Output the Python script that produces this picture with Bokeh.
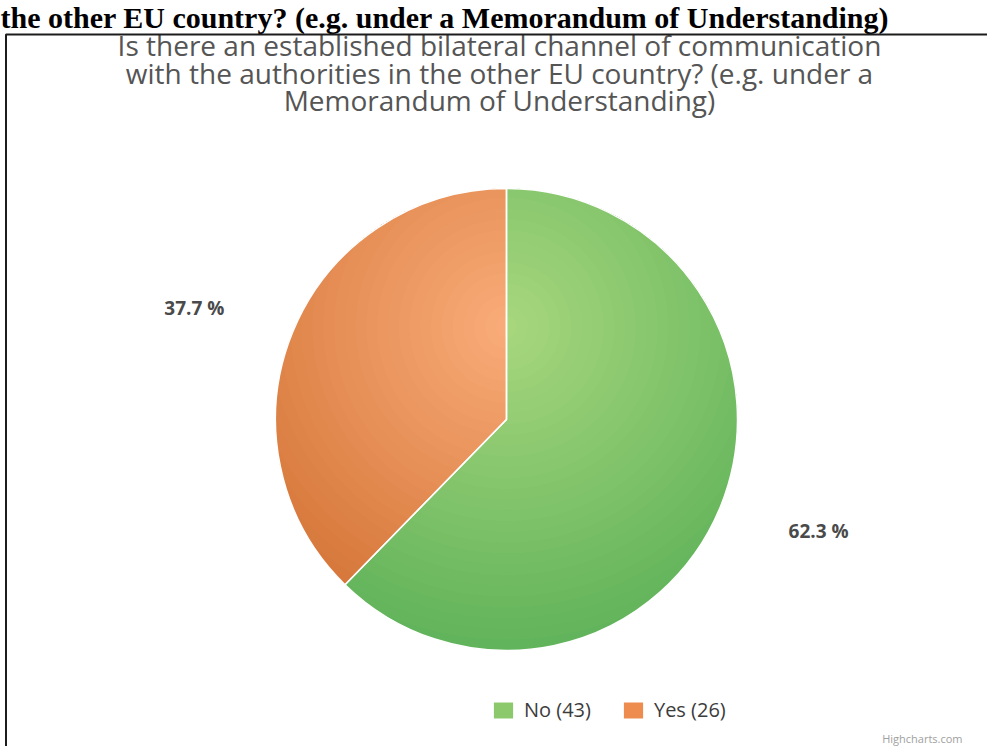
import numpy as np
from bokeh.plotting import figure
from bokeh.models import Range1d, Legend, LegendItem, BoxAnnotation
from bokeh.embed import file_html
from bokeh.resources import INLINE
from bokeh.core.properties import value

# ---- data ----
categories = ["No", "Yes"]
counts = [43, 26]
legend_labels = ["No (43)", "Yes (26)"]
title_lines = [
    "Is there an established bilateral channel of communication",
    "with the authorities in the other EU country? (e.g. under a",
    "Memorandum of Understanding)",
]
header_text = "the other EU country? (e.g. under a Memorandum of Understanding)"
credits_text = "Highcharts.com"

# ---- styles ----
legend_colors = ["#8cc96c", "#ee8b4f"]
grad_light = ["#a8d77e", "#f9ac79"]
grad_dark = ["#60b35a", "#d47436"]

W, H = 987, 746


def fx(xr):
    return xr


def fy(yr):
    return H - yr


def hex2rgb(h):
    h = h.lstrip("#")
    return np.array([int(h[i:i + 2], 16) for i in (0, 2, 4)], dtype=float)


def lerp(c0, c1, t):
    a, b = hex2rgb(c0), hex2rgb(c1)
    c = a + (b - a) * t
    return "#%02x%02x%02x" % tuple(int(round(v)) for v in c)


p = figure(width=W, height=H, x_range=Range1d(0, W), y_range=Range1d(0, H),
           output_backend="svg", toolbar_location=None, min_border=0,
           x_axis_type=None, y_axis_type=None)
p.grid.visible = False
p.outline_line_color = None
p.background_fill_color = "white"
p.border_fill_color = "white"

# frame box of the embedded chart
p.add_layout(BoxAnnotation(left=5.5, right=W + 60, top=fy(34), bottom=-60,
                           fill_alpha=0, line_color="#1c1c1c", line_alpha=1.0,
                           line_width=2))

# document header above the box
p.text(x=[fx(0)], y=[fy(0)], text=[header_text], text_font=value("Liberation Serif"),
       text_font_style="bold", text_font_size="30px", text_color="black",
       text_baseline="top", text_align="left")

# title
p.text(x=[fx(499)] * 3, y=[fy(44), fy(72), fy(99)], text=title_lines,
       text_align="center", text_baseline="middle", text_font=value("Open Sans"),
       text_font_size="28px", text_color="#555555")

# pie geometry
cx, cy, R = fx(506), fy(419), 231.0
total = float(sum(counts))
fracs = [c / total for c in counts]
cum = np.concatenate([[0.0], np.cumsum(fracs)])
starts = [np.pi / 2 - 2 * np.pi * cum[i + 1] for i in range(len(counts))]
ends = [np.pi / 2 - 2 * np.pi * cum[i] for i in range(len(counts))]

base_renderers = []
for i in range(len(counts)):
    r = p.wedge(x=[cx], y=[cy], radius=R, start_angle=[starts[i]], end_angle=[ends[i]],
                fill_color=legend_colors[i], line_color=None)
    base_renderers.append(r)

# radial gradient (Highcharts style: centre at 0.3 of diameter from top, radius 0.7 D)
gx, gy = cx, cy + 0.4 * R
rho_max = 1.4 * R
N = 30
for i in range(len(counts)):
    th = np.linspace(starts[i], ends[i], 260)
    ux, uy = np.cos(th), np.sin(th)
    dx, dy = cx - gx, cy - gy
    b = ux * dx + uy * dy
    cc = dx * dx + dy * dy
    xs, ys, cols = [], [], []
    for k in range(N, 0, -1):
        rho = rho_max * k / N
        disc = b * b - cc + rho * rho
        sq = np.sqrt(np.clip(disc, 0, None))
        lo = np.clip(-b - sq, 0, R)
        hi = np.clip(-b + sq, 0, R)
        empty = (disc < 0) | (hi <= lo)
        if empty.all():
            continue
        lo = np.where(empty, 0, lo)
        hi = np.where(empty, 0, hi)
        px = np.concatenate([cx + hi * ux, (cx + lo * ux)[::-1]])
        py = np.concatenate([cy + hi * uy, (cy + lo * uy)[::-1]])
        xs.append(list(px))
        ys.append(list(py))
        cols.append(lerp(grad_light[i], grad_dark[i], (k - 0.5) / N))
    p.patches(xs=xs, ys=ys, fill_color=cols, line_color=None)

# slice borders
for i in range(len(counts)):
    p.wedge(x=[cx], y=[cy], radius=R, start_angle=[starts[i]], end_angle=[ends[i]],
            fill_color=None, line_color="white", line_width=1.5)

# data labels (Highcharts-like placement: y on circle r+d, x offset by padding)
rd, pad = 296.0, 8.0
for i in range(len(counts)):
    m = 0.5 * (starts[i] + ends[i])
    side = 1.0 if np.cos(m) > 0 else -1.0
    lx = cx + rd * np.cos(m) + side * pad
    ly = cy + rd * np.sin(m)
    align = "left" if side > 0 else "right"
    p.text(x=[lx], y=[ly], text=["%.1f %%" % (100 * fracs[i])], text_align=align,
           text_baseline="middle", text_font=value("Open Sans"), text_font_style="bold",
           text_font_size="19px", text_color="#4a4a4a")

# legend
legend = Legend(items=[LegendItem(label=legend_labels[i], renderers=[base_renderers[i]])
                       for i in range(len(counts))],
                orientation="horizontal", location=(fx(491), fy(723)),
                glyph_width=24, glyph_height=20, label_height=20, label_standoff=9,
                spacing=30, padding=0, margin=0, border_line_color=None,
                background_fill_alpha=0, label_text_font="Open Sans",
                label_text_font_size="20px", label_text_color="#3c3c3c")
p.add_layout(legend)

# credits
p.text(x=[fx(962)], y=[fy(738)], text=[credits_text], text_align="right",
       text_baseline="alphabetic", text_font=value("Open Sans"), text_font_size="11px",
       text_color="#a0a0a0")

open("out.html", "w").write(file_html(p, INLINE))
